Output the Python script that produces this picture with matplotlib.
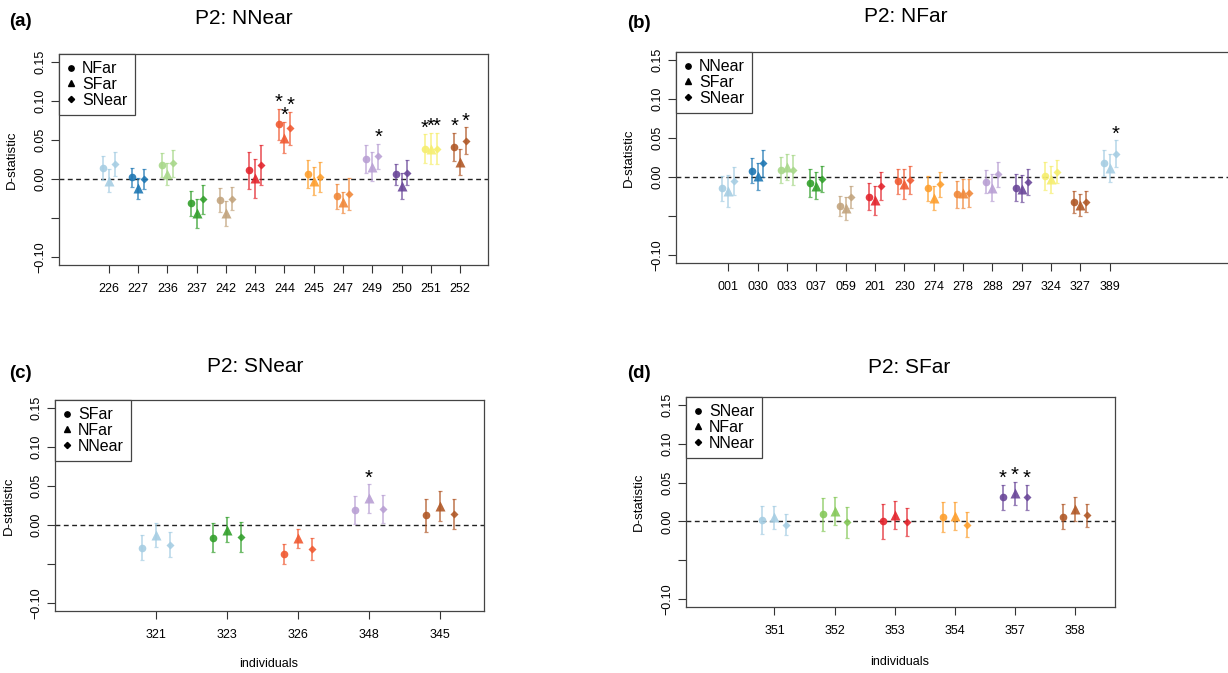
import matplotlib
matplotlib.use('Agg')
import matplotlib.pyplot as plt
from matplotlib.lines import Line2D

plt.rcParams['font.family'] = ['Liberation Sans', 'DejaVu Sans']

# colours used for the individuals
LBLUE = '#A6CEE3'
BLUE = '#1F78B4'
LGREEN = '#A8D88A'
GREEN = '#33A02C'
TAN = '#C2A47E'
RED = '#E3262E'
ORED = '#F05A32'
ORANGE = '#FD9F2E'
DORANGE = '#F0883A'
LPURPLE = '#B9A0D4'
PURPLE = '#6A4799'
YELLOW = '#F6EE6E'
BROWN = '#B15928'

# ---- panel (a) P2: NNear
a_labels = ['226', '227', '236', '237', '242', '243', '244', '245', '247', '249', '250', '251', '252']
a_colors = [LBLUE, BLUE, LGREEN, GREEN, TAN, RED, ORED, ORANGE, DORANGE, LPURPLE, PURPLE, YELLOW, BROWN]
a_names = ['NFar', 'SFar', 'SNear']
a_d1 = [0.014, 0.002, 0.018, -0.031, -0.027, 0.011, 0.070, 0.006, -0.022, 0.026, 0.006, 0.039, 0.041]
a_e1 = [0.015, 0.012, 0.015, 0.016, 0.015, 0.024, 0.020, 0.018, 0.016, 0.018, 0.013, 0.018, 0.018]
a_d2 = [-0.002, -0.012, 0.006, -0.044, -0.044, 0.001, 0.053, -0.002, -0.030, 0.016, -0.009, 0.039, 0.022]
a_e2 = [0.015, 0.013, 0.014, 0.019, 0.016, 0.025, 0.020, 0.018, 0.014, 0.018, 0.017, 0.020, 0.017]
a_d3 = [0.019, 0.000, 0.020, -0.026, -0.025, 0.018, 0.065, 0.003, -0.019, 0.029, 0.008, 0.039, 0.049]
a_e3 = [0.015, 0.013, 0.017, 0.019, 0.015, 0.025, 0.021, 0.019, 0.020, 0.016, 0.016, 0.020, 0.017]
a_sig1 = ['244', '251', '252']
a_sig2 = ['244', '251']
a_sig3 = ['244', '249', '251', '252']

# ---- panel (b) P2: NFar
b_labels = ['001', '030', '033', '037', '059', '201', '230', '274', '278', '288', '297', '324', '327', '389']
b_colors = [LBLUE, BLUE, LGREEN, GREEN, TAN, RED, ORED, ORANGE, DORANGE, LPURPLE, PURPLE, YELLOW, BROWN, LBLUE]
b_names = ['NNear', 'SFar', 'SNear']
b_d1 = [-0.0145, 0.008, 0.009, -0.008, -0.037, -0.025, -0.0055, -0.0145, -0.022, -0.006, -0.0135, 0.0015, -0.032, 0.018]
b_e1 = [0.016, 0.016, 0.016, 0.018, 0.013, 0.017, 0.016, 0.016, 0.017, 0.015, 0.017, 0.018, 0.014, 0.017]
b_d2 = [-0.018, 0.001, 0.013, -0.011, -0.040, -0.030, -0.009, -0.027, -0.021, -0.0135, -0.015, -0.003, -0.036, 0.012]
b_e2 = [0.020, 0.017, 0.017, 0.017, 0.015, 0.019, 0.019, 0.015, 0.018, 0.017, 0.017, 0.017, 0.014, 0.018]
b_d3 = [-0.005, 0.0175, 0.009, -0.0025, -0.026, -0.011, -0.0035, -0.009, -0.020, 0.0035, -0.0065, 0.007, -0.0315, 0.030]
b_e3 = [0.018, 0.017, 0.019, 0.017, 0.014, 0.018, 0.018, 0.016, 0.018, 0.016, 0.017, 0.015, 0.013, 0.017]
b_sig1 = []
b_sig2 = []
b_sig3 = ['389']

# ---- panel (c) P2: SNear
c_labels = ['321', '323', '326', '348', '345']
c_colors = [LBLUE, GREEN, ORED, LPURPLE, BROWN]
c_names = ['SFar', 'NFar', 'NNear']
c_d1 = [-0.029, -0.016, -0.037, 0.0195, 0.0127]
c_e1 = [0.016, 0.019, 0.013, 0.018, 0.021]
c_d2 = [-0.013, -0.006, -0.017, 0.034, 0.0246]
c_e2 = [0.015, 0.016, 0.012, 0.018, 0.019]
c_d3 = [-0.025, -0.0157, -0.031, 0.020, 0.014]
c_e3 = [0.016, 0.019, 0.014, 0.018, 0.019]
c_sig1 = []
c_sig2 = ['348']
c_sig3 = []

# ---- panel (d) P2: SFar
d_labels = ['351', '352', '353', '354', '357', '358']
d_colors = [LBLUE, '#86C95A', RED, ORANGE, PURPLE, BROWN]
d_names = ['SNear', 'NFar', 'NNear']
d_d1 = [0.0013, 0.009, 0.000, 0.0055, 0.031, 0.006]
d_e1 = [0.018, 0.021, 0.022, 0.019, 0.016, 0.016]
d_d2 = [0.0055, 0.014, 0.0085, 0.007, 0.036, 0.016]
d_e2 = [0.015, 0.018, 0.018, 0.018, 0.015, 0.015]
d_d3 = [-0.004, -0.001, -0.001, -0.004, 0.031, 0.008]
d_e3 = [0.014, 0.020, 0.018, 0.016, 0.016, 0.015]
d_sig1 = ['357']
d_sig2 = ['357']
d_sig3 = ['357']

W, H = 1228, 673
fig = plt.figure(figsize=(W / 100, H / 100), dpi=100)


def rect(l, r, t, b):
    return [l / W, 1 - b / H, (r - l) / W, (b - t) / H]


MARKERS = [('o', 5.5), ('^', 6.5), ('D', 4.5)]
OFFS = [-0.2, 0.0, 0.2]


def draw_panel(box, xlim, labels, colors, names, vals, errs, sigs):
    ax = fig.add_axes(rect(*box))
    pos = list(range(1, len(labels) + 1))
    ax.axhline(0, color='#222222', lw=1.0, ls=(0, (3.5, 2.5)), zorder=1)
    for k in range(3):
        mk, ms = MARKERS[k]
        for i, p in enumerate(pos):
            x = p + OFFS[k]
            ax.errorbar(x, vals[k][i], yerr=errs[k][i], fmt='none', ecolor=colors[i],
                        elinewidth=1.3, capsize=1.3, capthick=0.9, alpha=0.7, zorder=2)
            ax.plot(x, vals[k][i], marker=mk, ms=ms, color=colors[i], mec='none',
                    alpha=0.9, zorder=3, clip_on=False)
            if labels[i] in sigs[k]:
                ax.annotate('*', (x, vals[k][i] + errs[k][i]), xytext=(0, 4.5),
                            textcoords='offset points', ha='center', va='center',
                            fontsize=14.5, color='black')
    ax.set_xlim(*xlim)
    ax.set_ylim(-0.11, 0.16)
    ax.set_xticks(pos)
    ax.set_xticklabels(labels, fontsize=9)
    ax.set_yticks([-0.10, -0.05, 0.0, 0.05, 0.10, 0.15])
    ax.set_yticklabels(['\u22120.10', '', '0.00', '0.05', '0.10', '0.15'], fontsize=9,
                       rotation=90, va='center')
    ax.tick_params(axis='x', length=6, width=0.8, pad=7, colors='#333333', labelcolor='black')
    ax.tick_params(axis='y', length=6, width=0.8, pad=3, colors='#333333', labelcolor='black')
    for s in ax.spines.values():
        s.set_linewidth(0.9)
        s.set_color('#444444')
    handles = [Line2D([], [], marker=MARKERS[k][0], ms=MARKERS[k][1] * 0.7, color='black',
                      ls='none') for k in range(3)]
    leg = ax.legend(handles, names, loc='upper left', borderaxespad=0, fontsize=11.5,
                    handlelength=0.6, handletextpad=0.4, labelspacing=0.05, borderpad=0.45,
                    fancybox=False, framealpha=1, edgecolor='#444444')
    leg.get_frame().set_linewidth(0.9)
    return ax


draw_panel((59, 488, 54, 265), (-0.709, 13.957), a_labels, a_colors, a_names,
           [a_d1, a_d2, a_d3], [a_e1, a_e2, a_e3], [a_sig1, a_sig2, a_sig3])
draw_panel((676, 1240, 52, 263), (-0.78, 18.44), b_labels, b_colors, b_names,
           [b_d1, b_d2, b_d3], [b_e1, b_e2, b_e3], [b_sig1, b_sig2, b_sig3])
draw_panel((55, 484, 400, 611), (-0.42, 5.62), c_labels, c_colors, c_names,
           [c_d1, c_d2, c_d3], [c_e1, c_e2, c_e3], [c_sig1, c_sig2, c_sig3])
draw_panel((686, 1115, 397, 607), (-0.473, 6.67), d_labels, d_colors, d_names,
           [d_d1, d_d2, d_d3], [d_e1, d_e2, d_e3], [d_sig1, d_sig2, d_sig3])

# titles, panel letters, axis labels
for txt, x, y in [('P2: NNear', 244, 19), ('P2: NFar', 906, 16),
                  ('P2: SNear', 255, 367), ('P2: SFar', 909, 368)]:
    fig.text(x / W, 1 - y / H, txt, ha='center', va='center', fontsize=15)
for txt, x, y in [('(a)', 20, 22), ('(b)', 639, 23), ('(c)', 20, 373), ('(d)', 639, 374)]:
    fig.text(x / W, 1 - y / H, txt, ha='center', va='center', fontsize=13.5, fontweight='bold')
for x, y in [(12, 160), (629, 158), (9, 506), (639, 502)]:
    fig.text(x / W, 1 - y / H, 'D-statistic', ha='center', va='center', rotation=90, fontsize=9.5)
for x, y in [(269, 664), (900, 662)]:
    fig.text(x / W, 1 - y / H, 'individuals', ha='center', va='center', fontsize=9)

fig.savefig('out.png', dpi=100)
